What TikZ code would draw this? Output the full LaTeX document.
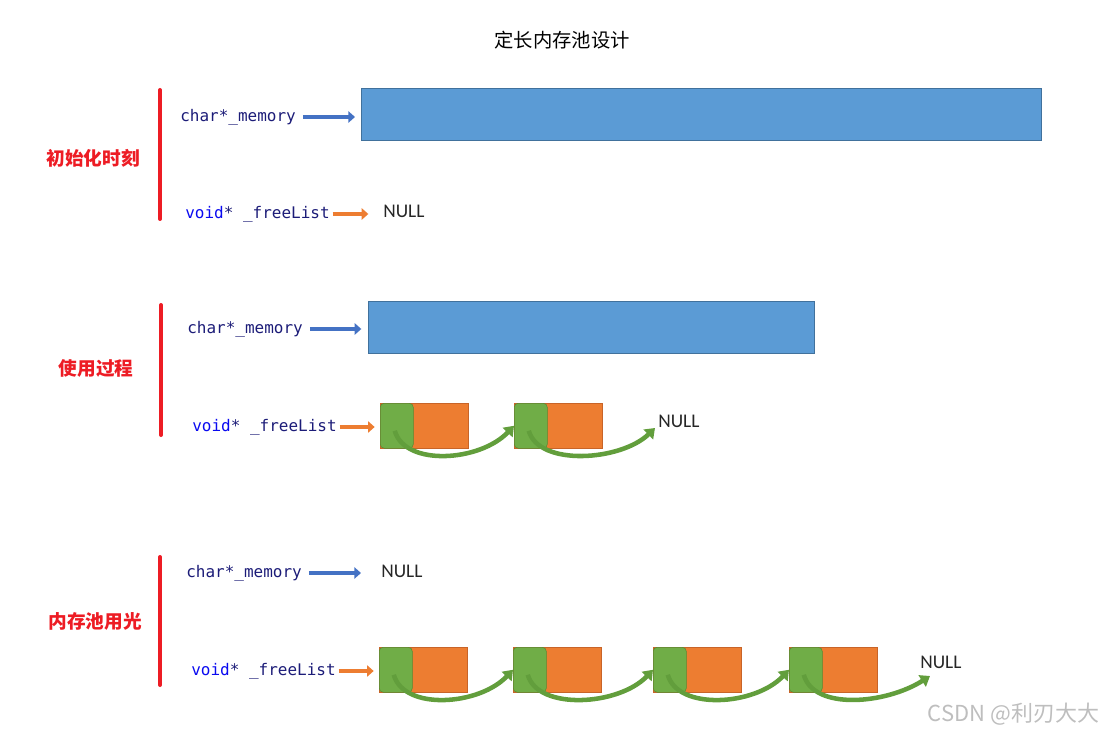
\documentclass[tikz,border=0pt]{standalone}
\usepackage{fontspec}
\usetikzlibrary{arrows.meta,calc}
\newfontfamily\cjk{Noto Sans CJK SC}
\newfontfamily\codefont{DejaVu Sans Mono}
\newfontfamily\calfont{Carlito}
\definecolor{codenavy}{RGB}{28,28,120}
\definecolor{kwblue}{RGB}{10,10,240}
\definecolor{stagered}{RGB}{237,28,36}
\definecolor{memblue}{RGB}{91,155,213}
\definecolor{memborder}{RGB}{65,113,156}
\definecolor{arrowblue}{RGB}{68,114,196}
\definecolor{arroworange}{RGB}{237,125,49}
\definecolor{chunkorange}{RGB}{237,125,49}
\definecolor{chunkborder}{RGB}{200,100,40}
\definecolor{ptrgreen}{RGB}{112,173,71}
\definecolor{ptrborder}{RGB}{84,140,52}
\definecolor{linkgreen}{RGB}{98,158,60}
\definecolor{nullgray}{RGB}{38,38,38}
\definecolor{markgray}{RGB}{190,190,190}
\tikzstyle{title} = [font=\cjk\fontsize{14.5}{17}\selectfont, text=black]
\tikzstyle{stage} = [font=\cjk\bfseries\fontsize{14}{17}\selectfont, text=stagered]
\tikzstyle{stagebar} = [draw=stagered, line width=3pt, line cap=round]
\tikzstyle{code} = [anchor=west, inner sep=0pt, font=\codefont\fontsize{12}{14}\selectfont, text=codenavy]
\tikzstyle{nulltext} = [anchor=west, inner sep=0pt, font=\calfont\fontsize{14.5}{17}\selectfont, text=nullgray]
\tikzstyle{memblock} = [draw=memborder, fill=memblue, line width=0.5pt, anchor=north west, inner sep=0pt, minimum height=39pt]
\tikzstyle{chunk} = [draw=chunkborder, fill=chunkorange, line width=0.4pt, anchor=north west, inner sep=0pt, minimum width=66pt, minimum height=33.75pt]
\tikzstyle{nextptr} = [draw=ptrborder, fill=ptrgreen, line width=0.4pt, rounded corners=3pt, anchor=north west, inner sep=0pt, minimum width=24.75pt, minimum height=33.75pt]
\tikzstyle{bluearrow} = [draw=arrowblue, line width=3.2pt, -{Triangle[length=5pt,width=8.5pt]}]
\tikzstyle{orangearrow} = [draw=arroworange, line width=3.2pt, -{Triangle[length=5pt,width=8.5pt]}]
\tikzstyle{link} = [draw=linkgreen, line width=3.4pt, -{Triangle[length=7pt,width=10pt]}]
\tikzstyle{watermark} = [font=\cjk\fontsize{16.5}{18}\selectfont, text=markgray, anchor=east]

\begin{document}
\begin{tikzpicture}[x=0.75pt, y=-0.75pt]
    \useasboundingbox (0,0) rectangle (1107,734);
    \draw (562,40) node[title] (title) {定长内存池设计};

    % 初始化时刻
    \draw[stagebar] (160,90) -- (160,219);
    \draw (93,158) node[stage] (s1) {初始化时刻};
    \draw (180,117) node[code] (mem1) {char*\_memory};
    \draw (361,88) node[memblock, minimum width=510pt] (pool1) {};
    \draw[bluearrow, shorten <=5pt, shorten >=4.5pt] (mem1.east) -- (mem1.east -| pool1.west);
    \draw (185,214) node[code] (free1) {\textcolor{kwblue}{void}* \_freeList};
    \draw (383,211) node[nulltext] (null1) {NULL};
    \draw[orangearrow, shorten <=2pt, shorten >=11pt] (free1.east) -- (free1.east -| null1.west);

    % 使用过程
    \draw[stagebar] (161,305) -- (161,435);
    \draw (96,368) node[stage] (s2) {使用过程};
    \draw (187,329) node[code] (mem2) {char*\_memory};
    \draw (368,301) node[memblock, minimum width=334.5pt] (pool2) {};
    \draw[bluearrow, shorten <=5pt, shorten >=5pt] (mem2.east) -- (mem2.east -| pool2.west);
    \draw (192,427) node[code] (free2) {\textcolor{kwblue}{void}* \_freeList};
    \draw (380,403) node[chunk] (c1) {};
    \draw (380,403) node[nextptr] (p1) {};
    \draw (514,403) node[chunk] (c2) {};
    \draw (514,403) node[nextptr] (p2) {};
    \draw (658,421) node[nulltext] (null2) {NULL};
    \draw[orangearrow, shorten <=2pt, shorten >=4pt] (free2.east) -- (free2.east -| c1.west);
    \draw[link] ($(p1.center)+(-2,5)$) .. controls +(10,36) and ($(c2.west)+(-34,36)$) .. (c2.west);
    \draw[link] ($(p2.center)+(-2,5)$) .. controls +(10,36) and ($(null2.west)+(-37,40)$) .. ($(null2.west)+(-3,7)$);

    % 内存池用光
    \draw[stagebar] (160,557) -- (160,685);
    \draw (95,621) node[stage] (s3) {内存池用光};
    \draw (186,573) node[code] (mem3) {char*\_memory};
    \draw (381,571) node[nulltext] (null3) {NULL};
    \draw[bluearrow, shorten <=5pt, shorten >=15pt] (mem3.east) -- (mem3.east -| null3.west);
    \draw (191,671) node[code] (free3) {\textcolor{kwblue}{void}* \_freeList};
    \draw (379,647) node[chunk] (d1) {};
    \draw (379,647) node[nextptr] (q1) {};
    \draw (513,647) node[chunk] (d2) {};
    \draw (513,647) node[nextptr] (q2) {};
    \draw (653,647) node[chunk] (d3) {};
    \draw (653,647) node[nextptr] (q3) {};
    \draw (789,647) node[chunk] (d4) {};
    \draw (789,647) node[nextptr] (q4) {};
    \draw (920,662) node[nulltext] (null4) {NULL};
    \draw[orangearrow, shorten <=2pt, shorten >=4pt] (free3.east) -- (free3.east -| d1.west);
    \draw[link] ($(q1.center)+(-2,5)$) .. controls +(10,36) and ($(d2.west)+(-34,36)$) .. (d2.west);
    \draw[link] ($(q2.center)+(-2,5)$) .. controls +(10,36) and ($(d3.west)+(-34,36)$) .. (d3.west);
    \draw[link] ($(q3.center)+(-2,5)$) .. controls +(10,36) and ($(d4.west)+(-34,36)$) .. (d4.west);
    \draw[link] ($(q4.center)+(-2,5)$) .. controls +(10,36) and ($(null4.west)+(-34,42)$) .. ($(null4.west)+(10,14)$);

    \draw (1104,714) node[watermark] (mark) {CSDN @利刃大大};
\end{tikzpicture}
\end{document}
